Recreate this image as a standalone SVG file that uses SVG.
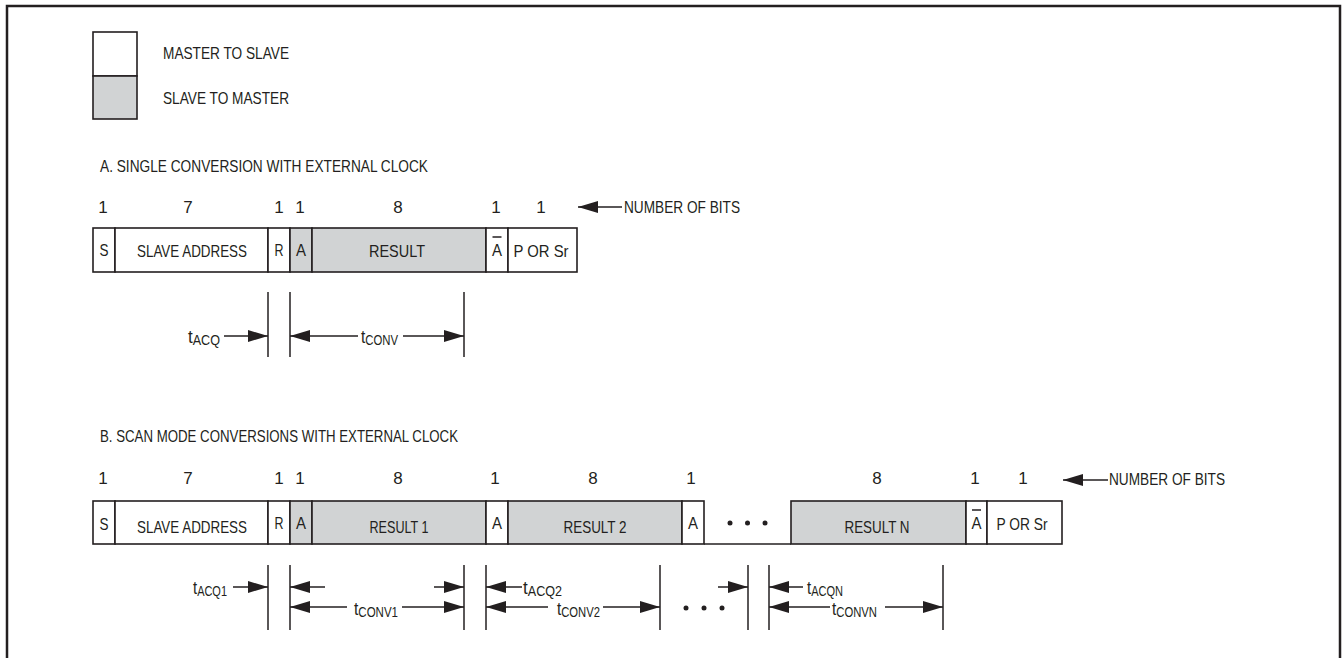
<svg xmlns="http://www.w3.org/2000/svg" width="1343" height="658" viewBox="0 0 1343 658">
<style>
text{font-family:"Liberation Sans",Arial,sans-serif;fill:#231f20;font-size:17px}
.m{text-anchor:middle}
.box{stroke:#231f20;stroke-width:1.6}
.w{fill:#fff}
.g{fill:#d1d3d4}
.ln{stroke:#231f20;stroke-width:1.5;fill:none}
.ar{stroke:#231f20;stroke-width:1.5;fill:none;marker-end:url(#ah)}
.t{font-size:19px}
.s{font-size:14px}
</style>
<defs>
<marker id="ah" markerUnits="userSpaceOnUse" viewBox="0 0 20 12" refX="20" refY="6" markerWidth="20" markerHeight="12" orient="auto">
<path d="M0,0 L20,6 L0,12 Z" fill="#231f20"/>
</marker>
</defs>
<rect width="1343" height="658" fill="#fff"/>
<path d="M7,662 V6 H1340 V662" fill="none" stroke="#231f20" stroke-width="2.5"/>

<g id="legend">
<rect class="box w" x="93" y="32" width="44" height="44"/>
<rect class="box g" x="93" y="76" width="44" height="43"/>
<text x="163" y="59" textLength="126" lengthAdjust="spacingAndGlyphs">MASTER TO SLAVE</text>
<text x="163" y="104" textLength="126" lengthAdjust="spacingAndGlyphs">SLAVE TO MASTER</text>
</g>

<g id="sectionA">
<text x="100" y="172" textLength="328" lengthAdjust="spacingAndGlyphs">A.  SINGLE CONVERSION WITH EXTERNAL CLOCK</text>
<g id="bitsA">
<text class="m" x="103" y="213">1</text>
<text class="m" x="188" y="213">7</text>
<text class="m" x="279" y="213">1</text>
<text class="m" x="300" y="213">1</text>
<text class="m" x="398" y="213">8</text>
<text class="m" x="496" y="213">1</text>
<text class="m" x="541" y="213">1</text>
<text x="624" y="213" textLength="116" lengthAdjust="spacingAndGlyphs">NUMBER OF BITS</text>
</g>
<g id="packetA">
<rect class="box w" x="93" y="228" width="22" height="44"/>
<rect class="box w" x="115" y="228" width="153" height="44"/>
<rect class="box w" x="268" y="228" width="22" height="44"/>
<rect class="box g" x="290" y="228" width="22" height="44"/>
<rect class="box g" x="312" y="228" width="174" height="44"/>
<rect class="box w" x="486" y="228" width="22" height="44"/>
<rect class="box w" x="508" y="228" width="69" height="44"/>
<text class="m" x="104" y="256" textLength="9" lengthAdjust="spacingAndGlyphs">S</text>
<text class="m" x="192" y="257" textLength="110" lengthAdjust="spacingAndGlyphs">SLAVE ADDRESS</text>
<text class="m" x="279" y="256" textLength="9" lengthAdjust="spacingAndGlyphs">R</text>
<text class="m" x="301" y="256" textLength="10" lengthAdjust="spacingAndGlyphs">A</text>
<text class="m" x="397" y="257" textLength="56" lengthAdjust="spacingAndGlyphs">RESULT</text>
<text class="m" x="497" y="256" textLength="10" lengthAdjust="spacingAndGlyphs">A</text>
<line class="ln" x1="492.5" y1="237" x2="501.5" y2="237" stroke-width="1.3"/>
<text class="m" x="541" y="257" textLength="55" lengthAdjust="spacingAndGlyphs">P OR Sr</text>
</g>
</g>

<g id="sectionB">
<text x="100" y="442" textLength="358" lengthAdjust="spacingAndGlyphs">B.  SCAN MODE CONVERSIONS WITH EXTERNAL CLOCK</text>
<g id="bitsB">
<text class="m" x="103" y="484">1</text>
<text class="m" x="188" y="484">7</text>
<text class="m" x="279" y="484">1</text>
<text class="m" x="300" y="484">1</text>
<text class="m" x="398" y="484">8</text>
<text class="m" x="495" y="484">1</text>
<text class="m" x="593" y="484">8</text>
<text class="m" x="691" y="484">1</text>
<text class="m" x="877" y="484">8</text>
<text class="m" x="975" y="484">1</text>
<text class="m" x="1023" y="484">1</text>
<text x="1109" y="485" textLength="116" lengthAdjust="spacingAndGlyphs">NUMBER OF BITS</text>
</g>
<g id="packetB">
<rect class="box w" x="93" y="501" width="22" height="43"/>
<rect class="box w" x="115" y="501" width="153" height="43"/>
<rect class="box w" x="268" y="501" width="22" height="43"/>
<rect class="box g" x="290" y="501" width="22" height="43"/>
<rect class="box g" x="312" y="501" width="174" height="43"/>
<rect class="box w" x="486" y="501" width="22" height="43"/>
<rect class="box g" x="508" y="501" width="174" height="43"/>
<rect class="box w" x="682" y="501" width="22" height="43"/>
<line class="ln" x1="704" y1="544" x2="791" y2="544" stroke-width="1.6"/>
<rect class="box g" x="791" y="501" width="175" height="43"/>
<rect class="box w" x="966" y="501" width="21" height="43"/>
<rect class="box w" x="987" y="501" width="75" height="43"/>
<text class="m" x="104" y="530" textLength="9" lengthAdjust="spacingAndGlyphs">S</text>
<text class="m" x="192" y="533" textLength="110" lengthAdjust="spacingAndGlyphs">SLAVE ADDRESS</text>
<text class="m" x="279" y="529" textLength="9" lengthAdjust="spacingAndGlyphs">R</text>
<text class="m" x="301" y="529" textLength="10" lengthAdjust="spacingAndGlyphs">A</text>
<text class="m" x="399" y="533" textLength="59" lengthAdjust="spacingAndGlyphs">RESULT 1</text>
<text class="m" x="497" y="529" textLength="10" lengthAdjust="spacingAndGlyphs">A</text>
<text class="m" x="595" y="533" textLength="63" lengthAdjust="spacingAndGlyphs">RESULT 2</text>
<text class="m" x="693" y="529" textLength="10" lengthAdjust="spacingAndGlyphs">A</text>
<circle cx="730" cy="523" r="2.5" fill="#231f20"/>
<circle cx="747.5" cy="523" r="2.5" fill="#231f20"/>
<circle cx="765" cy="523" r="2.5" fill="#231f20"/>
<text class="m" x="877" y="533" textLength="65" lengthAdjust="spacingAndGlyphs">RESULT N</text>
<text class="m" x="976.5" y="529" textLength="10" lengthAdjust="spacingAndGlyphs">A</text>
<line class="ln" x1="972" y1="510" x2="981" y2="510" stroke-width="1.3"/>
<text class="m" x="1022" y="530" textLength="51" lengthAdjust="spacingAndGlyphs">P OR Sr</text>
</g>
</g>

<g id="timing-labels">
<text x="188" y="343" textLength="32" lengthAdjust="spacingAndGlyphs"><tspan class="t">t</tspan><tspan class="s" dy="2">ACQ</tspan></text>
<text x="361" y="343" textLength="37" lengthAdjust="spacingAndGlyphs"><tspan class="t">t</tspan><tspan class="s" dy="2">CONV</tspan></text>
<text x="193" y="594" textLength="34" lengthAdjust="spacingAndGlyphs"><tspan class="t">t</tspan><tspan class="s" dy="2">ACQ1</tspan></text>
<text x="354" y="615" textLength="44" lengthAdjust="spacingAndGlyphs"><tspan class="t">t</tspan><tspan class="s" dy="2">CONV1</tspan></text>
<text x="523" y="594" textLength="39" lengthAdjust="spacingAndGlyphs"><tspan class="t">t</tspan><tspan class="s" dy="2">ACQ2</tspan></text>
<text x="557" y="615" textLength="43" lengthAdjust="spacingAndGlyphs"><tspan class="t">t</tspan><tspan class="s" dy="2">CONV2</tspan></text>
<text x="807" y="594" textLength="36" lengthAdjust="spacingAndGlyphs"><tspan class="t">t</tspan><tspan class="s" dy="2">ACQN</tspan></text>
<text x="832" y="615" textLength="45" lengthAdjust="spacingAndGlyphs"><tspan class="t">t</tspan><tspan class="s" dy="2">CONVN</tspan></text>
<circle cx="686" cy="608" r="2.5" fill="#231f20"/>
<circle cx="704" cy="608" r="2.5" fill="#231f20"/>
<circle cx="722" cy="608" r="2.5" fill="#231f20"/>
</g>

<g id="connectors">
<line class="ar" x1="622" y1="207" x2="578" y2="207"/>
<line class="ar" x1="1108" y1="480" x2="1063" y2="480"/>
<line class="ln" x1="268" y1="292" x2="268" y2="357"/>
<line class="ln" x1="290" y1="292" x2="290" y2="357"/>
<line class="ln" x1="464" y1="292" x2="464" y2="357"/>
<line class="ar" x1="224" y1="336" x2="268" y2="336"/>
<line class="ar" x1="358" y1="336" x2="290" y2="336"/>
<line class="ar" x1="403" y1="336" x2="464" y2="336"/>
<line class="ln" x1="268" y1="565" x2="268" y2="630"/>
<line class="ln" x1="290" y1="565" x2="290" y2="630"/>
<line class="ln" x1="464" y1="565" x2="464" y2="630"/>
<line class="ln" x1="486" y1="565" x2="486" y2="630"/>
<line class="ln" x1="660" y1="565" x2="660" y2="630"/>
<line class="ln" x1="748" y1="565" x2="748" y2="630"/>
<line class="ln" x1="769" y1="565" x2="769" y2="630"/>
<line class="ln" x1="943" y1="565" x2="943" y2="630"/>
<line class="ar" x1="233" y1="587" x2="268" y2="587"/>
<line class="ar" x1="325" y1="587" x2="290" y2="587"/>
<line class="ar" x1="434" y1="587" x2="464" y2="587"/>
<line class="ar" x1="522" y1="587" x2="486" y2="587"/>
<line class="ar" x1="718" y1="587" x2="748" y2="587"/>
<line class="ar" x1="803" y1="587" x2="769" y2="587"/>
<line class="ar" x1="347" y1="607" x2="290" y2="607"/>
<line class="ar" x1="402" y1="607" x2="464" y2="607"/>
<line class="ar" x1="548" y1="607" x2="486" y2="607"/>
<line class="ar" x1="603" y1="607" x2="660" y2="607"/>
<line class="ar" x1="830" y1="607" x2="769" y2="607"/>
<line class="ar" x1="885" y1="607" x2="943" y2="607"/>
</g>
</svg>
